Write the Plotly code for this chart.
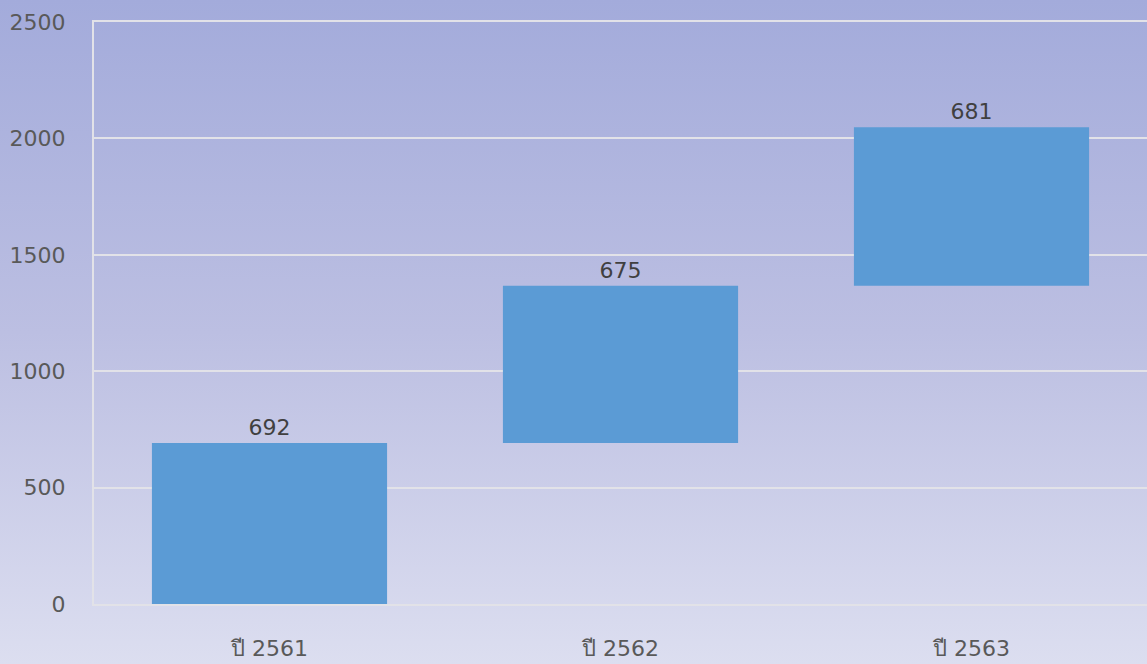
import base64
import plotly.graph_objects as go

categories = ["ปี 2561", "ปี 2562", "ปี 2563"]
values = [692, 675, 681]
labels = [str(v) for v in values]
y_ticks = [0, 500, 1000, 1500, 2000, 2500]

W, H = 1147, 664
ML, MR, MT, MB = 94, 0, 22, 60
PW, PH = W - ML - MR, H - MT - MB

svg = (
    '<svg xmlns="http://www.w3.org/2000/svg" width="100" height="100" preserveAspectRatio="none">'
    '<defs><linearGradient id="g" x1="0" y1="0" x2="0" y2="1">'
    '<stop offset="0" stop-color="#a3abdb"/>'
    '<stop offset="0.5" stop-color="#bcbfe2"/>'
    '<stop offset="1" stop-color="#dcdef0"/>'
    '</linearGradient></defs>'
    '<rect width="100" height="100" fill="url(#g)"/></svg>'
)
src = "data:image/svg+xml;base64," + base64.b64encode(svg.encode()).decode()

fig = go.Figure(go.Waterfall(
    x=categories,
    y=values,
    measure=["relative"] * len(values),
    text=labels,
    textposition="outside",
    textfont=dict(family="DejaVu Sans", size=22, color="#404040"),
    increasing=dict(marker=dict(color="#5b9bd5")),
    decreasing=dict(marker=dict(color="#5b9bd5")),
    connector=dict(visible=False),
    cliponaxis=False,
    hoverinfo="skip",
))

fig.update_layout(
    width=W, height=H,
    margin=dict(l=ML, r=MR, t=MT, b=MB),
    paper_bgcolor="#c0c3e4",
    plot_bgcolor="rgba(0,0,0,0)",
    waterfallgap=0.33,
    showlegend=False,
    images=[dict(
        source=src, xref="paper", yref="paper",
        x=-ML / PW, y=1 + MT / PH, sizex=W / PW, sizey=H / PH,
        xanchor="left", yanchor="top", sizing="stretch", layer="below",
    )],
)

fig.update_yaxes(
    range=[0, 2500], tickvals=y_ticks,
    showgrid=True, gridcolor="#e2e2e8", gridwidth=2,
    zeroline=False, showline=True, linecolor="#e2e2e8", linewidth=2,
    tickfont=dict(family="DejaVu Sans", size=22, color="#595959"),
    ticklabelstandoff=22,
)
fig.update_xaxes(
    showgrid=False, showline=True, mirror=True, linecolor="#e2e2e8", linewidth=2,
    tickfont=dict(family="DejaVu Sans", size=22, color="#595959"),
    ticklabelstandoff=24,
)

fig.write_html(
    "out.html",
    config={"displayModeBar": False},
    post_script="document.body.style.margin='0';document.body.style.overflow='hidden';",
)
